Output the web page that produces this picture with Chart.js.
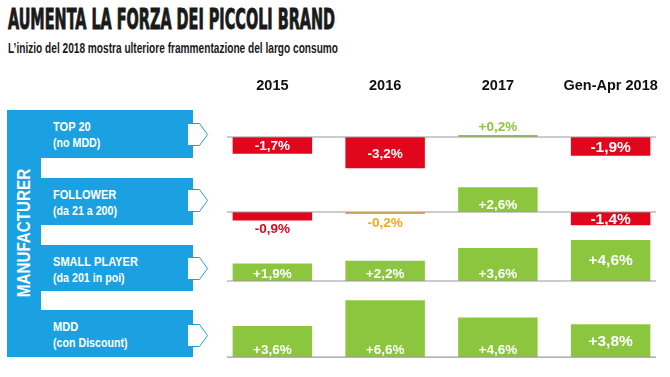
<!DOCTYPE html>
<html>
<head>
<meta charset="utf-8">
<script src="https://cdn.jsdelivr.net/npm/chart.js@4.4.1/dist/chart.umd.min.js"></script>
<style>
    body { margin: 0; background: #fff; }
    #page { position: relative; width: 670px; height: 377px; overflow: hidden; font-family: 'Liberation Sans', Arial, sans-serif; }
    #chart-canvas { position: absolute; left: 0; top: 0; }
    .title { position: absolute; left: 8px; top: 6px; font-family: 'DejaVu Sans Condensed', sans-serif; font-size: 28px; line-height: 28px; font-weight: bold; color: #1a1a1a; white-space: nowrap; transform-origin: 0 0; -webkit-text-stroke: 0.9px #1a1a1a; }
    .subtitle { position: absolute; left: 8px; top: 40px; font-size: 15px; line-height: 15px; font-weight: bold; color: #1a1a1a; white-space: nowrap; transform-origin: 0 0; }
    .vbar { position: absolute; left: 7px; top: 110px; width: 34px; height: 247px; background: #1ba1e2; }
    .vlabel { position: absolute; left: 24px; top: 233px; transform: translate(-50%, -50%) rotate(-90deg) scaleX(0.8); color: #fff; font-size: 19px; font-weight: bold; white-space: nowrap; line-height: 20px; }
    .row-box { position: absolute; left: 7px; width: 186px; background: #1ba1e2; color: #fff; font-weight: bold; box-sizing: border-box; padding: 9px 0 0 46px; }
    .row-box div { white-space: nowrap; transform-origin: 0 50%; transform: scaleX(0.82); }
    .row-box .l1 { font-size: 13.5px; line-height: 16px; }
    .row-box .l2 { font-size: 13px; line-height: 16px; }
    .tab { position: absolute; left: 187px; }
</style>
</head>
<body>
<div id="page">
    <div class="title" id="title">AUMENTA LA FORZA DEI PICCOLI BRAND</div>
    <div class="subtitle" id="subtitle">L’inizio del 2018 mostra ulteriore frammentazione del largo consumo</div>
    <div id="panel"></div>
    <canvas id="chart-canvas" width="670" height="377"></canvas>
</div>
<script>
const years = ['2015', '2016', '2017', 'Gen-Apr 2018'];
const rowNames = ['TOP 20', 'FOLLOWER', 'SMALL PLAYER', 'MDD'];
const rowNotes = ['(no MDD)', '(da 21 a 200)', '(da 201 in poi)', '(con Discount)'];
const panelTitle = 'MANUFACTURER';

const top20 = [-1.7, -3.2, 0.2, -1.9];
const follower = [-0.9, -0.2, 2.6, -1.4];
const smallPlayer = [1.9, 2.2, 3.6, 4.6];
const mdd = [3.6, 6.6, 4.6, 3.8];

const rowSeries = [top20, follower, smallPlayer, mdd];

// each row gets its own stacked y axis
const rowRanges = [[-3.57, 3.37], [-2.95, 4.21], [-1.63, 4.46], [-0.81, 7.09]];
const rowWeights = [68, 68, 56, 68];

const GREEN = '#8cc63f';
const RED = '#e1061b';
const ORANGE = '#f5a81c';
const BLUE = '#1ba1e2';
const LABEL_FONT = "'Liberation Sans', Arial, sans-serif";

function colorFor(v) {
    if (v > 0) return GREEN;
    if (v > -0.5) return ORANGE;
    return RED;
}

function fmt(v) {
    return (v > 0 ? '+' : '') + v.toFixed(1).replace('.', ',') + '%';
}

function fitWidth(id, target) {
    const el = document.getElementById(id);
    const w = el.getBoundingClientRect().width;
    el.style.transform = `scaleX(${target / w})`;
}

function buildPanel() {
    const panel = document.getElementById('panel');
    const boxes = [[110, 48, 134], [178, 47, 200], [245, 46, 268], [310, 47, 335]];
    let html = `<div class="vbar"></div>`;
    rowNames.forEach((name, i) => {
        const [top, h, mid] = boxes[i];
        html += `<div class="row-box" style="top:${top}px;height:${h}px">
            <div class="l1">${name}</div><div class="l2">${rowNotes[i]}</div></div>`;
        html += `<svg class="tab" style="top:${mid - 11}px" width="22" height="23" viewBox="0 0 22 23">
            <polygon points="0.5,0.5 12.5,0.5 20.5,11.5 12.5,22.5 0.5,22.5" fill="#fff" stroke="${BLUE}" stroke-width="1"/></svg>`;
    });
    html += `<div class="vlabel">${panelTitle}</div>`;
    panel.innerHTML = html;
}

const cellLabels = {
    id: 'cellLabels',
    afterDatasetsDraw(chart) {
        const ctx = chart.ctx;
        const area = chart.chartArea;
        rowSeries.forEach((series, i) => {
            const y0 = chart.scales['y' + i].getPixelForValue(0);
            ctx.save();
            ctx.strokeStyle = '#9a9a9a';
            ctx.lineWidth = 1.2;
            ctx.beginPath();
            ctx.moveTo(area.left + 11, y0);
            ctx.lineTo(area.right - 11, y0);
            ctx.stroke();

            const meta = chart.getDatasetMeta(i);
            meta.data.forEach((bar, j) => {
                const v = series[j];
                const { x, y, base } = bar.getProps(['x', 'y', 'base'], true);
                const h = Math.abs(base - y);
                const last = j === years.length - 1;
                const size = last ? 15.5 : 13.5;
                let cy, color = '#fff';
                if (v > 0) {
                    if (h < 12) { cy = y - 9; color = colorFor(v); }
                    else if (last) cy = (y + base) / 2;
                    else cy = Math.max((y + base) / 2, base - 8);
                } else {
                    if (h < 12) { cy = y + 8; color = colorFor(v); }
                    else cy = (y + base) / 2;
                }
                ctx.font = `bold ${size}px ${LABEL_FONT}`;
                ctx.fillStyle = color;
                ctx.textAlign = 'center';
                ctx.textBaseline = 'alphabetic';
                ctx.fillText(fmt(v), x, cy + size * 0.358);
            });
            ctx.restore();
        });
    }
};

function renderChart() {
    const scales = {
        x: {
            position: 'top',
            grid: { display: false, drawTicks: false },
            border: { display: false },
            ticks: {
                color: '#111',
                padding: 9,
                maxRotation: 0,
                minRotation: 0,
                autoSkip: false,
                font: { family: LABEL_FONT, size: 14.5, weight: 'bold' }
            }
        }
    };
    rowSeries.forEach((s, i) => {
        scales['y' + i] = {
            type: 'linear',
            position: 'left',
            stack: 'rows',
            stackWeight: rowWeights[i],
            weight: rowSeries.length - i,
            min: rowRanges[i][0],
            max: rowRanges[i][1],
            grid: { display: false, drawTicks: false },
            border: { display: false },
            ticks: { display: false }
        };
    });

    new Chart(document.getElementById('chart-canvas').getContext('2d'), {
        type: 'bar',
        data: {
            labels: years,
            datasets: rowSeries.map((data, i) => ({
                label: rowNames[i],
                data: data,
                yAxisID: 'y' + i,
                grouped: false,
                backgroundColor: data.map(colorFor),
                borderWidth: 0,
                barPercentage: 0.705,
                categoryPercentage: 1
            }))
        },
        options: {
            responsive: false,
            animation: false,
            layout: { padding: { top: 68.6, right: 3, left: 216, bottom: 13 } },
            plugins: {
                legend: { display: false },
                tooltip: { enabled: false }
            },
            scales: scales
        },
        plugins: [cellLabels]
    });
}

buildPanel();
fitWidth('title', 327);
fitWidth('subtitle', 330);
renderChart();
</script>
</body>
</html>
